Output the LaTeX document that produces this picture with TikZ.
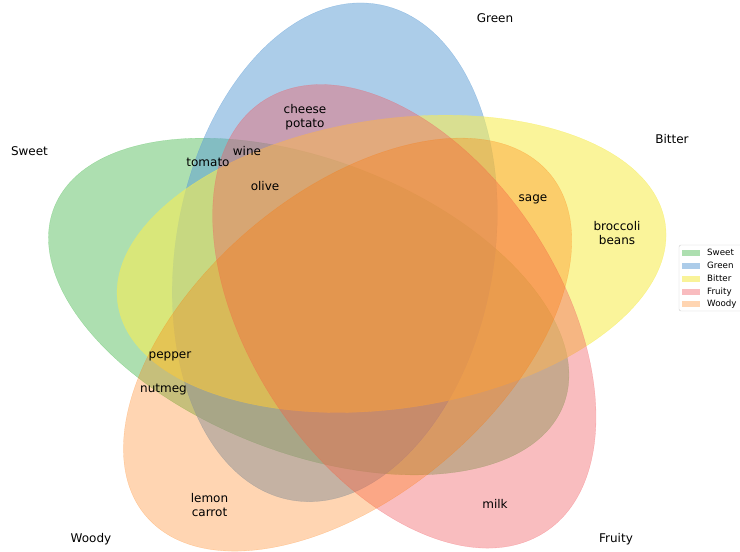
\documentclass[tikz,border=0pt]{standalone}
\usepackage{fontspec}
\setmainfont{DejaVu Sans}
\definecolor{sweetc}{RGB}{92,192,98}
\definecolor{greenc}{RGB}{90,155,212}
\definecolor{bitterc}{RGB}{246,236,86}
\definecolor{fruityc}{RGB}{241,90,96}
\definecolor{woodyc}{RGB}{255,117,0}
\tikzset{
	ens/.style 2 args={fill=#1, draw=#1, fill opacity=#2, draw opacity=#2, line width=0.3pt},
	lab/.style={font=\fontsize{12}{13.8}\selectfont, align=center, inner sep=0pt},
	mot/.style={lab, text height=7pt, text depth=0pt},
	leg/.style={font=\fontsize{8.7}{10}\selectfont, anchor=west, inner sep=0pt, text height=6pt, text depth=0pt},
	patch/.style 2 args={fill=#1, fill opacity=#2, minimum width=18pt, minimum height=6pt, inner sep=0pt},
}
\begin{document}
\begin{tikzpicture}[x=1pt,y=1pt]
	\useasboundingbox (0,0) rectangle (740,552);
	% les ensembles
	\begin{scope}[shift={(35.9,-13.6)}, xscale=637.4, yscale=577]
	\path[ens={sweetc}{0.5}, shift={(0.428,0.449)}, rotate=155] (0,0) ellipse (0.435 and 0.25);
	\path[ens={greenc}{0.5}, shift={(0.469,0.543)}, rotate=82] (0,0) ellipse (0.435 and 0.25);
	\path[ens={bitterc}{0.6}, shift={(0.558,0.523)}, rotate=10] (0,0) ellipse (0.435 and 0.25);
	\path[ens={fruityc}{0.4}, shift={(0.578,0.432)}, rotate=118] (0,0) ellipse (0.435 and 0.25);
	\path[ens={woodyc}{0.3}, shift={(0.489,0.383)}, rotate=46] (0,0) ellipse (0.435 and 0.25);
	\end{scope}
	% les noms
	\node[mot] (sweet) at (29.5,400) {Sweet};
	\node[mot] (green) at (495,533) {Green};
	\node[mot] (bitter) at (672,412) {Bitter};
	\node[mot] (fruity) at (616,13) {Fruity};
	\node[mot] (woody) at (91,13) {Woody};
	% les elements
	\node[lab] (cheese) at (305,435) {cheese\\potato};
	\node[mot] (wine) at (247,400) {wine};
	\node[mot] (tomato) at (208,389) {tomato};
	\node[mot] (olive) at (265,365) {olive};
	\node[mot] (sage) at (533,354) {sage};
	\node[lab] (broccoli) at (617,319) {broccoli\\beans};
	\node[mot] (pepper) at (170,197) {pepper};
	\node[mot] (nutmeg) at (163.5,163) {nutmeg};
	\node[lab] (lemon) at (209.5,47) {lemon\\carrot};
	\node[mot] (milk) at (495,47) {milk};
	% la legende
	\draw[rounded corners=2pt, draw=black!20, fill=white, fill opacity=0.8] (679,241) rectangle (748,307);
	\node[patch={sweetc}{0.5}] (psweet) at (691,299) {};
	\node[patch={greenc}{0.5}] (pgreen) at (691,286) {};
	\node[patch={bitterc}{0.6}] (pbitter) at (691,273) {};
	\node[patch={fruityc}{0.4}] (pfruity) at (691,260) {};
	\node[patch={woodyc}{0.3}] (pwoody) at (691,248) {};
	\node[leg] (lsweet) at (707,299) {Sweet};
	\node[leg] (lgreen) at (707,286) {Green};
	\node[leg] (lbitter) at (707,273) {Bitter};
	\node[leg] (lfruity) at (707,260) {Fruity};
	\node[leg] (lwoody) at (707,248) {Woody};
\end{tikzpicture}
\end{document}
